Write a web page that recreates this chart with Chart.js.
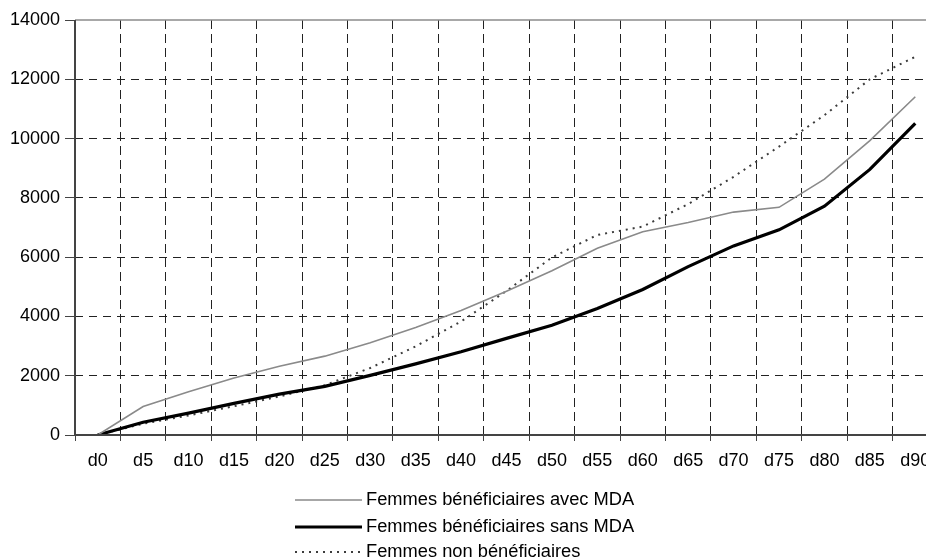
<!DOCTYPE html>
<html>
<head>
<meta charset="utf-8">
<script src="https://cdn.jsdelivr.net/npm/chart.js@4"></script>
<style>
    html, body { margin: 0; padding: 0; background: #fff; overflow: hidden; }
    #wrap { width: 940px; height: 559px; }
</style>
</head>
<body>
<div id="wrap"><canvas id="canvas"></canvas></div>
<script>
const days = ["d0", "d5", "d10", "d15", "d20", "d25", "d30", "d35", "d40", "d45",
    "d50", "d55", "d60", "d65", "d70", "d75", "d80", "d85", "d90"];
const avecMDA = [0, 960, 1460, 1920, 2320, 2660, 3110, 3630, 4200, 4850,
    5540, 6300, 6860, 7170, 7520, 7680, 8630, 9930, 11410];
const sansMDA = [0, 430, 740, 1065, 1380, 1640, 2010, 2400, 2810, 3260,
    3700, 4270, 4910, 5680, 6380, 6920, 7720, 8960, 10510];
const nonBenef = [0, 380, 660, 970, 1300, 1680, 2260, 2990, 3830, 4860,
    5990, 6750, 7030, 7790, 8710, 9730, 10790, 12000, 12760];
const yTicks = [0, 2000, 4000, 6000, 8000, 10000, 12000, 14000];

const FONT = "'Liberation Sans', Arial, sans-serif";

function l(element) {
    return document.getElementById(element);
}

// solid axes, grey frame top/right, legend stacked under the axis
const framePlugin = {
    id: "frame",
    afterDatasetsDraw(chart) {
        const ctx = chart.ctx;
        const a = chart.chartArea;
        ctx.save();
        ctx.setLineDash([]);
        ctx.strokeStyle = "#8c8c8c";
        ctx.lineWidth = 1.5;
        ctx.beginPath();
        ctx.moveTo(a.left, a.top);
        ctx.lineTo(a.right, a.top);
        ctx.lineTo(a.right, a.bottom);
        ctx.stroke();
        ctx.strokeStyle = "#444";
        ctx.lineWidth = 2;
        ctx.beginPath();
        ctx.moveTo(a.left, a.top);
        ctx.lineTo(a.left, a.bottom);
        ctx.lineTo(a.right, a.bottom);
        ctx.stroke();
        ctx.restore();
    },
    afterDraw(chart) {
        const ctx = chart.ctx;
        const rows = [500, 527, 552];
        ctx.save();
        chart.data.datasets.forEach((ds, i) => {
            const y = rows[i];
            ctx.strokeStyle = ds.borderColor;
            ctx.lineWidth = ds.borderWidth;
            ctx.setLineDash(ds.borderDash || []);
            ctx.beginPath();
            ctx.moveTo(295, y);
            ctx.lineTo(362, y);
            ctx.stroke();
            ctx.setLineDash([]);
            ctx.fillStyle = "#000";
            ctx.font = "18.3px " + FONT;
            ctx.textBaseline = "middle";
            ctx.fillText(ds.label, 366, y);
        });
        ctx.restore();
    }
};

const chart = new Chart(l("canvas"), {
    type: "line",
    data: {
        labels: days,
        datasets: [
            {label: "Femmes bénéficiaires avec MDA", data: avecMDA, borderColor: "#8a8a8a", borderWidth: 1.6},
            {label: "Femmes bénéficiaires sans MDA", data: sansMDA, borderColor: "#000000", borderWidth: 3.2},
            {label: "Femmes non bénéficiaires", data: nonBenef, borderColor: "#3c3c3c", borderWidth: 2, borderDash: [2, 5]}
        ]
    },
    options: {
        responsive: true,
        maintainAspectRatio: false,
        animation: false,
        layout: {padding: {top: 20, right: 2, left: 0, bottom: 0}},
        elements: {
            line: {tension: 0, fill: false},
            point: {radius: 0}
        },
        plugins: {
            legend: {display: false},
            tooltip: {enabled: false}
        },
        scales: {
            x: {
                offset: true,
                grid: {
                    offset: true,
                    color: "#222",
                    lineWidth: 1,
                    tickLength: 6,
                    tickColor: "#444",
                    tickBorderDash: []
                },
                border: {display: false, dash: [9, 5]},
                ticks: {
                    color: "#000",
                    font: {family: FONT, size: 18},
                    padding: 9,
                    maxRotation: 0,
                    autoSkip: false
                },
                afterFit(scale) {
                    scale.height = 124;
                }
            },
            y: {
                min: 0,
                max: 14000,
                afterBuildTicks(scale) {
                    scale.ticks = yTicks.map(v => ({value: v}));
                },
                grid: {
                    color: ctx => (ctx.tick && ctx.tick.value === 14000) ? "rgba(0,0,0,0)" : "#222",
                    lineWidth: 1,
                    tickLength: 10,
                    tickColor: "#444",
                    tickBorderDash: []
                },
                border: {display: false, dash: [8, 6]},
                ticks: {
                    color: "#000",
                    font: {family: FONT, size: 18},
                    padding: 5,
                    callback: v => String(v)
                },
                afterFit(scale) {
                    scale.width = 75;
                }
            }
        }
    },
    plugins: [framePlugin]
});
</script>
</body>
</html>
